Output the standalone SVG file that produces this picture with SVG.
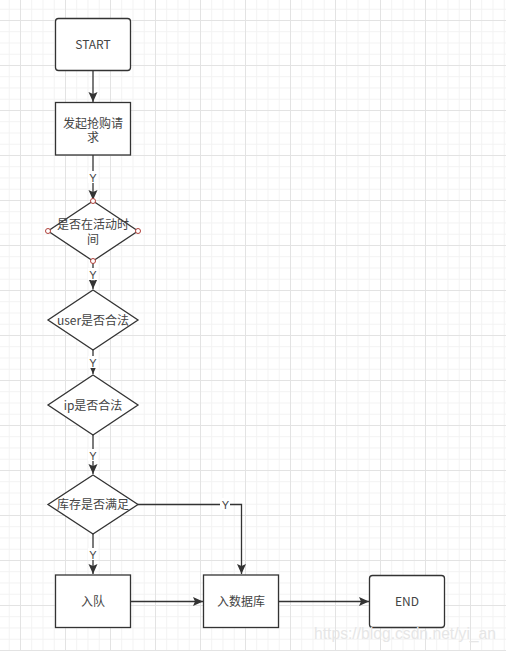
<svg xmlns="http://www.w3.org/2000/svg" width="506" height="651" viewBox="0 0 506 651">
<defs>
<pattern id="minor" patternUnits="userSpaceOnUse" x="8.75" y="8.75" width="11.25" height="11.25">
<path d="M0 0.5H11.25M0.5 0V11.25" fill="none" stroke="#f2f2f2" stroke-width="1"/>
</pattern>
<pattern id="major" patternUnits="userSpaceOnUse" x="20" y="20" width="45" height="45">
<path d="M0 0.5H45M0.5 0V45" fill="none" stroke="#e3e3e3" stroke-width="1"/>
</pattern>
<marker id="arr" viewBox="0 0 10 10" refX="10" refY="5" markerWidth="10" markerHeight="10" markerUnits="userSpaceOnUse" orient="auto">
<path d="M0 0.5L10 5L0 9.5L2 5Z" fill="#333"/>
</marker>
</defs>
<style>
.node{fill:#fff;stroke:#333;stroke-width:1.3}
.t{font-family:"Noto Sans CJK SC","Liberation Sans",sans-serif;font-size:12px;fill:#444;text-anchor:middle}
.lbl{font-family:"Liberation Sans","Noto Sans CJK SC",sans-serif;font-size:11px;fill:#444;text-anchor:middle}
.edge{fill:none;stroke:#333;stroke-width:1.3}
.pt{fill:#fff;stroke:#b0403a;stroke-width:1}
.wm{font-family:"Liberation Sans",sans-serif;font-size:16px;fill:#e6e6e6}
</style>
<rect width="506" height="651" fill="#fff"/>
<rect width="506" height="651" fill="url(#minor)"/>
<rect width="506" height="651" fill="url(#major)"/>
<g id="connectors">
<path class="edge" d="M93 70.5V102" marker-end="url(#arr)"/>
<path class="edge" d="M93 155V200" marker-end="url(#arr)"/>
<path class="edge" d="M93 261V289" marker-end="url(#arr)"/>
<path class="edge" d="M93 350V374" marker-end="url(#arr)"/>
<path class="edge" d="M93 435V474" marker-end="url(#arr)"/>
<path class="edge" d="M93 534V574" marker-end="url(#arr)"/>
<path class="edge" d="M138 504.5H241.5V574" marker-end="url(#arr)"/>
<path class="edge" d="M131 601.5H203" marker-end="url(#arr)"/>
<path class="edge" d="M279 601.5H369" marker-end="url(#arr)"/>
<g id="edge-labels">
<rect x="88" y="171" width="10" height="12" fill="#fff"/><text class="lbl" x="93" y="181.5">Y</text>
<rect x="88" y="268" width="10" height="12" fill="#fff"/><text class="lbl" x="93" y="278.5">Y</text>
<rect x="88" y="356" width="10" height="12" fill="#fff"/><text class="lbl" x="93" y="366.5">Y</text>
<rect x="88" y="449" width="10" height="12" fill="#fff"/><text class="lbl" x="93" y="459.5">Y</text>
<rect x="88" y="548" width="10" height="12" fill="#fff"/><text class="lbl" x="93" y="558.5">Y</text>
<rect x="220" y="498" width="10" height="12" fill="#fff"/><text class="lbl" x="225.5" y="508.5">Y</text>
</g>
</g>
<g id="start"><rect class="node" x="55.5" y="18.5" width="75" height="52" rx="3"/><text class="t" x="93" y="49">START</text></g>
<g id="request"><rect class="node" x="55.5" y="102.5" width="75" height="52.5"/><text class="t"><tspan x="93" y="127.5">发起抢购请</tspan><tspan x="93" y="142">求</tspan></text></g>
<g id="check-time"><path class="node" d="M93 201L138 231L93 261L48 231Z"/><text class="t"><tspan x="93" y="229">是否在活动时</tspan><tspan x="93" y="243.5">间</tspan></text>
<circle class="pt" cx="93" cy="201" r="2.5"/><circle class="pt" cx="138" cy="231" r="2.5"/><circle class="pt" cx="93" cy="261" r="2.5"/><circle class="pt" cx="48" cy="231" r="2.5"/></g>
<g id="check-user"><path class="node" d="M93 290L138 320L93 350L48 320Z"/><text class="t" x="93" y="324.5">user是否合法</text></g>
<g id="check-ip"><path class="node" d="M93 375L138 405L93 435L48 405Z"/><text class="t" x="93" y="409.5">ip是否合法</text></g>
<g id="check-stock"><path class="node" d="M93 475L138 504.5L93 534L48 504.5Z"/><text class="t" x="93" y="509">库存是否满足</text></g>
<g id="enqueue"><rect class="node" x="55.5" y="575" width="75" height="52.5"/><text class="t" x="93" y="606">入队</text></g>
<g id="db"><rect class="node" x="203.5" y="575" width="75" height="52.5"/><text class="t" x="241" y="606">入数据库</text></g>
<g id="end"><rect class="node" x="369.5" y="575.5" width="75" height="52" rx="3"/><text class="t" x="407" y="606">END</text></g>
<text class="wm" x="314" y="639" textLength="182" lengthAdjust="spacingAndGlyphs">https://blog.csdn.net/yi_an</text>
</svg>
